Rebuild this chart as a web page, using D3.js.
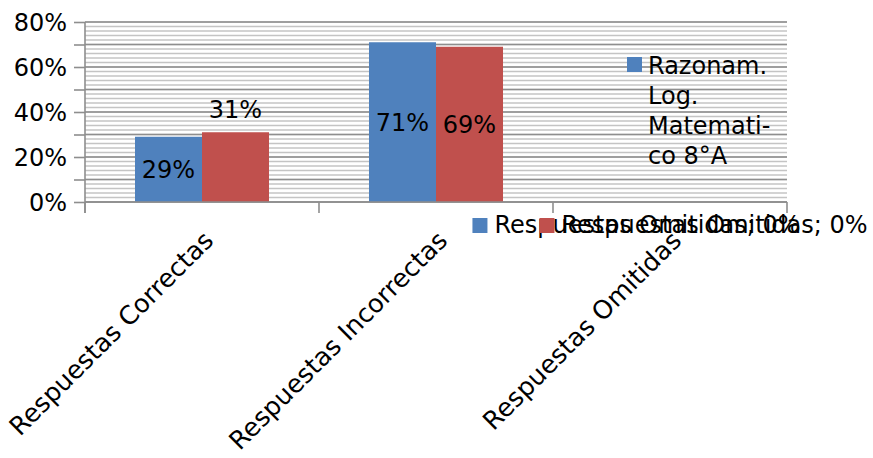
<!DOCTYPE html>
<html>
<head>
<meta charset="utf-8">
<script src="https://cdn.jsdelivr.net/npm/d3@7"></script>
<style>
  body { margin: 0; background: #fff; }
  svg text { font-family: "DejaVu Sans", sans-serif; fill: #000; }
</style>
</head>
<body>
<div class="bar-chart"></div>
<script>
// chart values
var categories = ["Respuestas Correctas", "Respuestas Incorrectas", "Respuestas Omitidas"];
var seriesNames = ["Razonam. Log. Matematico 8°A", "Serie 2"];
var razonamiento = [0.29, 0.71, 0];
var serie2 = [0.31, 0.69, 0];
var yTicks = [0, 0.1, 0.2, 0.3, 0.4, 0.5, 0.6, 0.7, 0.8];
var legendLines = ["Razonam.", "Log.", "Matemati-", "co 8°A"];

var width = 873, height = 458;
var colors = ["#4f81bd", "#c0504d"];
var series = [razonamiento, serie2];

var margin = { left: 85, right: 86, top: 22, bottom: 256 };

var svg = d3.select(".bar-chart")
    .append("svg")
    .attr("width", width)
    .attr("height", height);

var x0 = d3.scaleBand()
    .domain(categories)
    .range([margin.left, width - margin.right]);

var x1 = d3.scaleBand()
    .domain(d3.range(series.length))
    .range([0, x0.bandwidth()])
    .paddingOuter(0.746);

var y = d3.scaleLinear()
    .domain([0, 0.8])
    .range([height - margin.bottom, margin.top]);

// minor gridlines every 2%
svg.append("g")
  .selectAll("line")
  .data(d3.range(0, 81, 2).map(function(v) { return v / 100; }))
  .enter().append("line")
    .attr("x1", margin.left)
    .attr("x2", width - margin.right)
    .attr("y1", function(d) { return y(d); })
    .attr("y2", function(d) { return y(d); })
    .style("stroke", "#c4c4c4")
    .style("stroke-width", 1.6);

// major gridlines every 10%
svg.append("g")
  .selectAll("line")
  .data(yTicks)
  .enter().append("line")
    .attr("x1", margin.left)
    .attr("x2", width - margin.right)
    .attr("y1", function(d) { return y(d); })
    .attr("y2", function(d) { return y(d); })
    .style("stroke", "#8e8e8e")
    .style("stroke-width", 1.6);

// bars
var groups = svg.append("g")
  .selectAll("g")
  .data(series)
  .enter().append("g")
    .style("fill", function(d, i) { return colors[i]; });

groups.selectAll("rect")
  .data(function(d, i) { return d.map(function(v, j) { return { s: i, c: j, v: v }; }); })
  .enter().append("rect")
    .attr("x", function(d) { return x0(categories[d.c]) + x1(d.s); })
    .attr("width", x1.bandwidth())
    .attr("y", function(d) { return y(d.v); })
    .attr("height", function(d) { return y(0) - y(d.v); });

// y axis
var yAxis = d3.axisLeft(y)
    .tickValues(yTicks)
    .tickSize(11)
    .tickPadding(7)
    .tickFormat(function(d, i) { return i % 2 === 0 ? d3.format(".0%")(d) : ""; });

var gy = svg.append("g")
    .attr("transform", "translate(" + margin.left + ",0)")
    .call(yAxis);
gy.select(".domain").remove();
gy.selectAll("line").style("stroke", "#8e8e8e").style("stroke-width", 1.6);
gy.selectAll("text")
    .style("font-size", "24px")
    .attr("dy", "0.36em")
    .style("fill", "#000");
gy.append("line")
    .attr("x1", 0).attr("x2", 0)
    .attr("y1", margin.top).attr("y2", y(0) + 11)
    .style("stroke", "#8e8e8e").style("stroke-width", 1.6);

// x axis
var bounds = [margin.left].concat(categories.map(function(c) { return x0(c) + x0.bandwidth(); }));
svg.append("line")
    .attr("x1", margin.left).attr("x2", width - margin.right)
    .attr("y1", y(0)).attr("y2", y(0))
    .style("stroke", "#8e8e8e").style("stroke-width", 1.6);
svg.append("g")
  .selectAll("line")
  .data(bounds)
  .enter().append("line")
    .attr("x1", function(d) { return d; })
    .attr("x2", function(d) { return d; })
    .attr("y1", y(0))
    .attr("y2", y(0) + 11)
    .style("stroke", "#8e8e8e").style("stroke-width", 1.6);

svg.append("g")
  .selectAll("text")
  .data(categories)
  .enter().append("text")
    .attr("transform", function(d) {
        return "translate(" + (x0(d) + x0.bandwidth() / 2 + 13) + "," + (y(0) + 40) + ") rotate(-45)";
    })
    .attr("text-anchor", "end")
    .style("font-size", "25.5px")
    .text(function(d) { return d; });

// data labels
var outside = [[false, false, false], [true, false, false]];
var pct = d3.format(".0%");

groups.each(function(vals, i) {
    vals.forEach(function(v, j) {
        var cx = x0(categories[j]) + x1(i) + x1.bandwidth() / 2;
        if (v === 0) {
            // zero values show a keyed label below the axis
            var lab = svg.append("g");
            var t = lab.append("text")
                .attr("x", 22)
                .attr("y", y(0) + 31)
                .style("font-size", "24px")
                .text(categories[j] + "; " + pct(v));
            var w = 22 + t.node().getComputedTextLength();
            lab.append("rect")
                .attr("x", 0).attr("y", y(0) + 16)
                .attr("width", 15).attr("height", 15)
                .style("fill", colors[i]);
            lab.attr("transform", "translate(" + (cx - w / 2) + ",0)");
            return;
        }
        var ty = outside[i][j] ? y(v) - 14 : (y(v) + y(0)) / 2 + 9;
        svg.append("text")
            .attr("x", cx)
            .attr("y", ty)
            .attr("text-anchor", "middle")
            .style("font-size", "24px")
            .text(pct(v));
    });
});

// legend
var legend = svg.append("g").attr("transform", "translate(627,57)");
legend.append("rect")
    .attr("width", 15).attr("height", 15)
    .style("fill", colors[0]);
legend.append("text")
    .style("font-size", "24px")
    .selectAll("tspan")
    .data(legendLines)
    .enter().append("tspan")
      .attr("x", 21)
      .attr("y", function(d, i) { return 17 + i * 30; })
      .text(function(d) { return d; });
</script>
</body>
</html>
